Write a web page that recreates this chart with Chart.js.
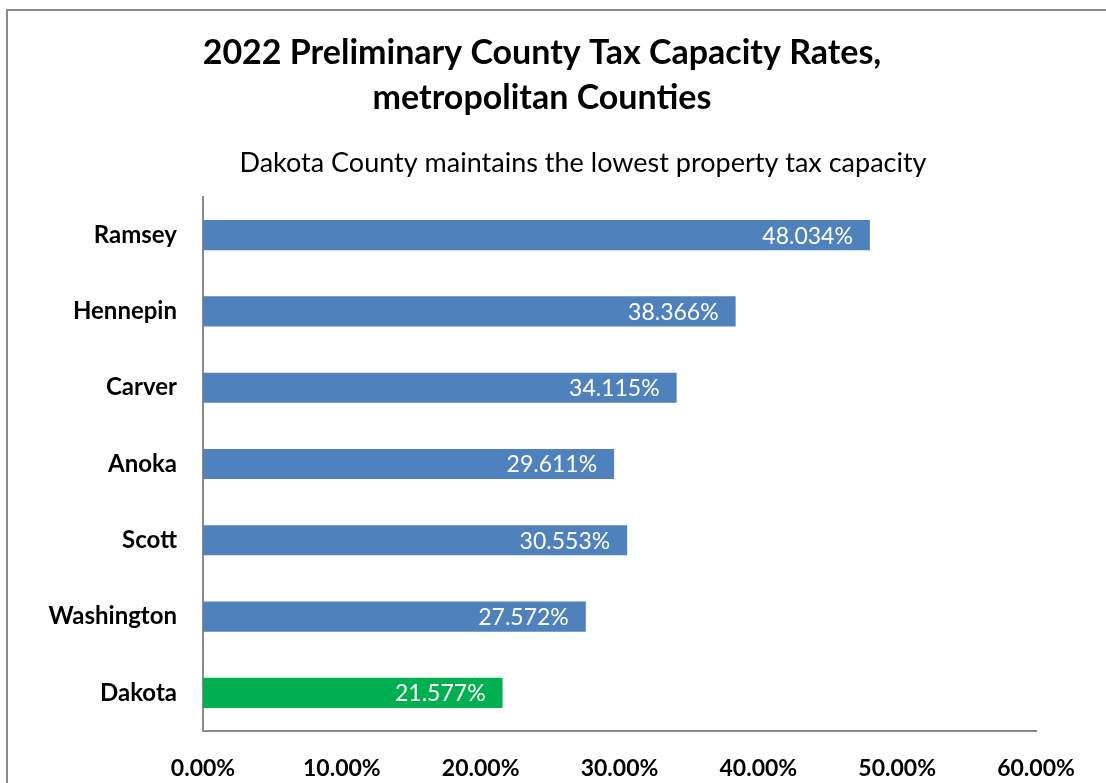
<!DOCTYPE html>
<html>
<head>
<meta charset="utf-8">
<script src="https://cdn.jsdelivr.net/npm/chart.js@4"></script>
<style>
  html, body { margin: 0; padding: 0; background: #fff; overflow: hidden; }
  #frame {
    position: absolute; left: 6px; top: 9px; width: 1120px; height: 800px;
    border: 2px solid #8a8a8a; box-sizing: border-box;
  }
  #wrap { position: absolute; left: 0; top: 0; width: 1106px; height: 783px; }
</style>
</head>
<body>
<div id="frame"></div>
<div id="wrap"><canvas id="taxChart"></canvas></div>
<script>
// 카운티별 세율 데이터
const counties = ['Ramsey', 'Hennepin', 'Carver', 'Anoka', 'Scott', 'Washington', 'Dakota'];
const rates = [48.034, 38.366, 34.115, 29.611, 30.553, 27.572, 21.577];
const xTicks = [0, 10, 20, 30, 40, 50, 60];

const titleLines = ['2022 Preliminary County Tax Capacity Rates,', 'metropolitan Counties'];
const subtitleText = 'Dakota County maintains the lowest property tax capacity';

const FONT = 'Lato, "Open Sans", sans-serif';

const barColors = counties.map(c => c === 'Dakota' ? '#00B050' : '#4F81BD');

// 제목 + 부제목 그리기
const titlePlugin = {
    id: 'titles',
    afterDraw(chart) {
        const ctx = chart.ctx;
        ctx.save();
        ctx.fillStyle = '#000';
        ctx.textAlign = 'center';
        ctx.textBaseline = 'middle';
        ctx.font = 'bold 34px ' + FONT;
        ctx.fillText(titleLines[0], 542, 53);
        ctx.fillText(titleLines[1], 542, 98);
        ctx.font = '27px ' + FONT;
        ctx.fillText(subtitleText, 583, 163);
        ctx.restore();
    }
};

// 막대 안쪽 끝에 값 표시
const labelPlugin = {
    id: 'barLabels',
    afterDatasetsDraw(chart) {
        const ctx = chart.ctx;
        const meta = chart.getDatasetMeta(0);
        ctx.save();
        ctx.fillStyle = '#fff';
        ctx.font = '23px ' + FONT;
        ctx.textAlign = 'right';
        ctx.textBaseline = 'middle';
        meta.data.forEach((bar, i) => {
            ctx.fillText(rates[i].toFixed(3) + '%', bar.x - 17, bar.y + 1);
        });
        ctx.restore();
    }
};

const ctx = document.getElementById('taxChart').getContext('2d');
new Chart(ctx, {
    type: 'bar',
    data: {
        labels: counties,
        datasets: [{
            data: rates,
            backgroundColor: barColors,
            borderWidth: 0,
            categoryPercentage: 1,
            barPercentage: 0.395
        }]
    },
    options: {
        indexAxis: 'y',
        responsive: true,
        maintainAspectRatio: false,
        animation: false,
        layout: {
            padding: {top: 197, right: 70, bottom: 0, left: 0}
        },
        plugins: {
            legend: {display: false},
            tooltip: {enabled: false}
        },
        scales: {
            x: {
                min: 0,
                max: 60,
                afterBuildTicks: scale => { scale.ticks = xTicks.map(v => ({value: v})); },
                afterFit: scale => { scale.height = 52; },
                grid: {display: false, drawTicks: false},
                border: {color: '#8a8a8a', width: 2},
                ticks: {
                    color: '#000',
                    padding: 24,
                    maxRotation: 0,
                    font: {family: FONT, size: 23, weight: 'bold'},
                    callback: v => v.toFixed(2) + '%'
                }
            },
            y: {
                afterFit: scale => { scale.width = 203; },
                grid: {display: false, drawTicks: false},
                border: {color: '#8a8a8a', width: 2},
                ticks: {
                    color: '#000',
                    padding: 26,
                    font: {family: FONT, size: 24, weight: 'bold'}
                }
            }
        }
    },
    plugins: [titlePlugin, labelPlugin]
});
</script>
</body>
</html>
